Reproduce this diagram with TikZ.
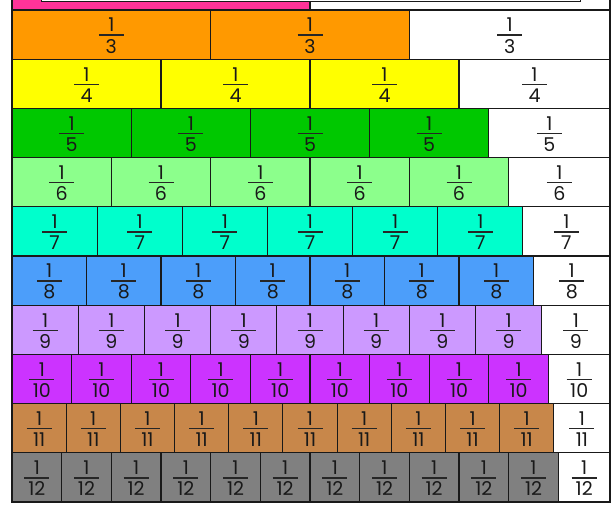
\documentclass[tikz,border=0pt]{standalone}
\usepackage{fontspec}
\setmainfont{Poppins}
\definecolor{cPink}{HTML}{FF3399}
\definecolor{cOrange}{HTML}{FF9900}
\definecolor{cYellow}{HTML}{FFFF00}
\definecolor{cGreen}{HTML}{00C800}
\definecolor{cLight}{HTML}{8CFF8C}
\definecolor{cAqua}{HTML}{00FFCC}
\definecolor{cBlue}{HTML}{4C9EFA}
\definecolor{cLav}{HTML}{CC99FF}
\definecolor{cMag}{HTML}{CC33FF}
\definecolor{cBrown}{HTML}{C8874A}
\definecolor{cGrey}{HTML}{808080}
\begin{document}
\begin{tikzpicture}[x=1pt,y=-1pt,
  cell/.style={draw=black!90, line width=1.1pt, inner sep=0pt, outer sep=0pt, anchor=north west},
  digit/.style={font=\fontsize{19}{19}\selectfont, inner sep=0pt, text=black!90},
  fbar/.style={line width=1.3pt, draw=black!85},
  topbox/.style={draw=black!90, fill=white, line width=1pt}]
\useasboundingbox (0,0) rectangle (613,507);
\begin{scope}
\clip (0,0) rectangle (613,507);
\foreach \n/\col [count=\r] in {2/cPink,3/cOrange,4/cYellow,5/cGreen,6/cLight,7/cAqua,8/cBlue,9/cLav,10/cMag,11/cBrown,12/cGrey} {
  \pgfmathsetmacro\rtop{10+(\r-2)*49.2}
  \pgfmathsetmacro\w{596/\n}
  \foreach \k in {1,...,\n} {
    \pgfmathsetmacro\xa{12+(\k-1)*\w}
    \ifnum\k<\n
      \pgfmathsetmacro\cw{\w}
      \def\fc{\col}
    \else
      \pgfmathsetmacro\cw{610-\xa}
      \def\fc{white}
    \fi
    \node[cell, fill=\fc, minimum width=\cw, minimum height=49.2] (c\n-\k) at (\xa,\rtop) {};
    \ifnum\n>2
      \node[digit] (u\n-\k) at ([yshift=9.5pt]c\n-\k.center) {1};
      \node[digit] (d\n-\k) at ([yshift=-11.5pt]c\n-\k.center) {\n};
      \draw[fbar] ([xshift=-12.5pt,yshift=-0.5pt]c\n-\k.center) -- ([xshift=12.5pt,yshift=-0.5pt]c\n-\k.center);
    \fi
  }
}
\path[topbox] (41,-30) rectangle (580,1.5);
\end{scope}
\end{tikzpicture}
\end{document}
